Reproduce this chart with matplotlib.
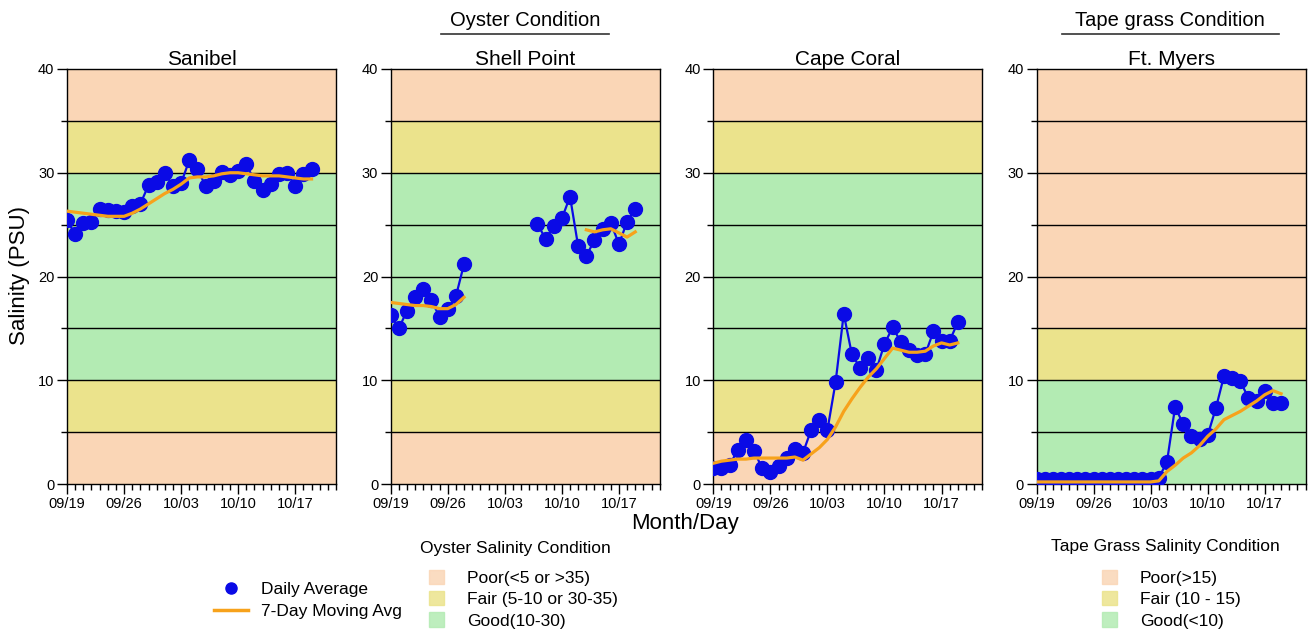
import numpy as np
import pandas as pd
import matplotlib
matplotlib.use('Agg')
import matplotlib.pyplot as plt
import matplotlib.dates as mdates
from matplotlib.lines import Line2D
from matplotlib.patches import Patch

plt.rcParams['font.family'] = ['Liberation Sans', 'DejaVu Sans']

nan = np.nan

# dias de 09/19 a 10/19
dates = pd.date_range('2023-09-19', periods=31, freq='D')
week_ticks = pd.date_range('2023-09-19', periods=5, freq='7D')

stations = ['Sanibel', 'Shell Point', 'Cape Coral', 'Ft. Myers']

sanibel_daily = [25.4, 24.1, 25.2, 25.3, 26.5, 26.4, 26.3, 26.2, 26.8, 27.0,
                 28.8, 29.1, 30.0, 28.7, 29.0, 31.2, 30.4, 28.7, 29.2, 30.1,
                 29.8, 30.2, 30.8, 29.2, 28.3, 28.9, 29.9, 30.0, 28.7, 29.9, 30.4]
sanibel_ma = [26.3, 26.2, 26.1, 26.0, 25.9, 25.8, 25.8, 25.8, 26.1, 26.5,
              27.0, 27.5, 28.0, 28.4, 28.9, 29.5, 29.6, 29.6, 29.7, 29.9,
              30.0, 30.0, 29.9, 29.8, 29.7, 29.7, 29.7, 29.6, 29.5, 29.4, 29.4]

shell_daily = [16.3, 15.0, 16.7, 18.0, 18.8, 17.7, 16.1, 16.9, 18.1, 21.2,
               nan, nan, nan, nan, nan, nan, nan, nan, 25.1, 23.6,
               24.9, 25.6, 27.7, 22.9, 22.0, 23.5, 24.6, 25.2, 23.1, 25.3, 26.5]
shell_ma = [17.5, 17.4, 17.3, 17.2, 17.2, 17.1, 16.9, 16.9, 17.3, 18.0,
            nan, nan, nan, nan, nan, nan, nan, nan, nan, nan,
            nan, nan, nan, nan, 24.5, 24.3, 24.5, 24.6, 24.2, 23.8, 24.3]

cape_daily = [1.5, 1.5, 1.8, 3.3, 4.2, 3.2, 1.5, 1.2, 1.7, 2.5,
              3.4, 3.0, 5.2, 6.2, 5.2, 9.8, 16.4, 12.5, 11.2, 12.1,
              11.0, 13.5, 15.1, 13.7, 12.9, 12.4, 12.5, 14.7, 13.8, 13.8, 15.6]
cape_ma = [2.0, 2.2, 2.3, 2.4, 2.4, 2.5, 2.5, 2.5, 2.5, 2.5,
           2.6, 2.3, 2.9, 3.5, 4.3, 5.5, 7.0, 8.2, 9.3, 10.3,
           11.1, 12.1, 13.1, 12.9, 12.7, 12.7, 12.8, 13.3, 13.6, 13.4, 13.6]

myers_daily = [0.5, 0.5, 0.5, 0.5, 0.5, 0.5, 0.5, 0.5, 0.5, 0.5,
               0.5, 0.5, 0.5, 0.5, 0.5, 0.6, 2.1, 7.4, 5.8, 4.6,
               4.3, 4.7, 7.3, 10.4, 10.2, 9.9, 8.3, 8.0, 9.0, 7.8, 7.8]
myers_ma = [0.2, 0.2, 0.2, 0.2, 0.2, 0.2, 0.2, 0.2, 0.2, 0.2,
            0.2, 0.2, 0.2, 0.2, 0.2, 0.3, 1.2, 1.8, 2.5, 3.0,
            3.7, 4.6, 5.3, 6.2, 6.6, 7.0, 7.5, 8.0, 8.6, 9.0, 8.7]

daily = [sanibel_daily, shell_daily, cape_daily, myers_daily]
moving = [sanibel_ma, shell_ma, cape_ma, myers_ma]

# faixas de condicao (limite inferior, superior, cor)
c_poor = '#FAD6B6'
c_fair = '#EBE38C'
c_good = '#B3EBB3'
oyster_bands = [(0, 5, c_poor), (5, 10, c_fair), (10, 30, c_good), (30, 35, c_fair), (35, 40, c_poor)]
tape_bands = [(0, 10, c_good), (10, 15, c_fair), (15, 40, c_poor)]
bands = [oyster_bands, oyster_bands, oyster_bands, tape_bands]

blue = '#0A0AE6'
orange = '#F7A21B'

W, H = 1310, 637
fig = plt.figure(figsize=(W / 100, H / 100), dpi=100)

lefts = [67, 390.7, 713.3, 1036.5]
for i in range(4):
    ax = fig.add_axes([lefts[i] / W, 1 - 484 / H, 269 / W, 415 / H])
    for lo, hi, col in bands[i]:
        ax.axhspan(lo, hi, color=col, lw=0, zorder=0)
    for yv in range(5, 40, 5):
        ax.axhline(yv, color='black', lw=1.0, zorder=1)
    ax.plot(dates, daily[i], '-o', color=blue, lw=1.6, ms=10, zorder=3)
    ax.plot(dates, moving[i], '-', color=orange, lw=2.3, zorder=4)
    ax.set_xlim(dates[0], dates[0] + pd.Timedelta(days=33))
    ax.set_ylim(0, 40)
    ax.set_yticks([0, 10, 20, 30, 40])
    ax.set_yticks([5, 15, 25, 35], minor=True)
    ax.set_xticks(week_ticks)
    ax.xaxis.set_minor_locator(mdates.DayLocator())
    ax.xaxis.set_major_formatter(mdates.DateFormatter('%m/%d'))
    ax.tick_params(which='major', labelsize=10.5, length=7, width=1, pad=2)
    ax.tick_params(which='minor', length=4, width=1)
    for s in ax.spines.values():
        s.set_linewidth(1.0)
    ax.set_title(stations[i], fontsize=15, pad=2)

# titulos de grupo sublinhados
fig.text(525 / W, 1 - 20 / H, 'Oyster Condition', ha='center', va='center', fontsize=14.5)
fig.add_artist(Line2D([441 / W, 609 / W], [1 - 34 / H, 1 - 34 / H], color='#333333', lw=1.2))
fig.text(1170 / W, 1 - 20 / H, 'Tape grass Condition', ha='center', va='center', fontsize=14.5)
fig.add_artist(Line2D([1062 / W, 1279 / W], [1 - 34 / H, 1 - 34 / H], color='#333333', lw=1.2))

fig.text(20 / W, 1 - 276 / H, 'Salinity (PSU)', ha='center', va='center', rotation=90, fontsize=16)
fig.text(685 / W, 1 - 524 / H, 'Month/Day', ha='center', va='center', fontsize=16)

# legendas
h1 = [Line2D([], [], marker='o', color=blue, ls='none', ms=8),
      Line2D([], [], color=orange, lw=2.5)]
fig.legend(h1, ['Daily Average', '7-Day Moving Avg'], loc='upper left',
           bbox_to_anchor=(205 / W, 1 - 573 / H), frameon=False, fontsize=12.5,
           handlelength=2.0, handletextpad=0.7, labelspacing=0.38, borderpad=0)

h2 = [Patch(color=c_poor, alpha=0.85), Patch(color=c_fair, alpha=0.85), Patch(color=c_good, alpha=0.85)]
fig.text(515 / W, 1 - 548 / H, 'Oyster Salinity Condition', ha='center', va='center', fontsize=12.5)
fig.legend(h2, ['Poor(<5 or >35)', 'Fair (5-10 or 30-35)', 'Good(10-30)'], loc='upper left',
           bbox_to_anchor=(420 / W, 1 - 561 / H), frameon=False, fontsize=12.5,
           handlelength=0.9, handleheight=0.9, handletextpad=1.3, labelspacing=0.3, borderpad=0)

fig.text(1165 / W, 1 - 547 / H, 'Tape Grass Salinity Condition', ha='center', va='center', fontsize=12.5)
fig.legend(h2, ['Poor(>15)', 'Fair (10 - 15)', 'Good(<10)'], loc='upper left',
           bbox_to_anchor=(1093 / W, 1 - 561 / H), frameon=False, fontsize=12.5,
           handlelength=0.9, handleheight=0.9, handletextpad=1.3, labelspacing=0.3, borderpad=0)

plt.savefig('out.png', dpi=100)
